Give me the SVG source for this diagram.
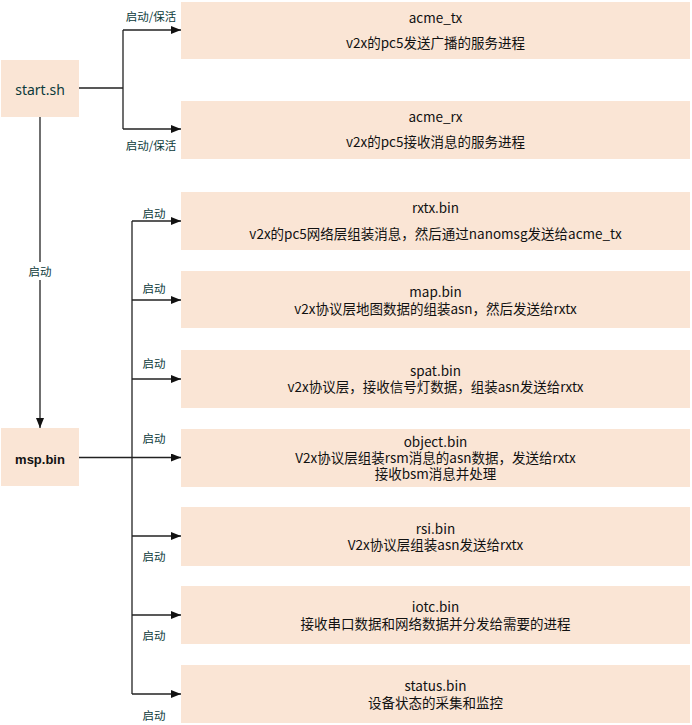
<svg xmlns="http://www.w3.org/2000/svg" width="692" height="725" viewBox="0 0 692 725">
<style>
.box{fill:#FAE5D5;}
.t{font-family:"Noto Sans CJK SC","Noto Sans",sans-serif;font-size:13.5px;fill:#111;text-anchor:middle;dominant-baseline:central;}
.lbl{font-family:"Noto Sans CJK SC","Noto Sans",sans-serif;font-size:11.5px;fill:#0B3A3A;text-anchor:middle;dominant-baseline:central;}
.ln{stroke:#222;stroke-width:1.3;fill:none;}
.arr{stroke:#222;stroke-width:1.3;fill:none;marker-end:url(#ah);}
</style>
<defs>
<marker id="ah" viewBox="0 0 10 8" refX="10" refY="4" markerWidth="10" markerHeight="8" markerUnits="userSpaceOnUse" orient="auto">
<path d="M0,0 L10,4 L0,8 z" fill="#111"/>
</marker>
</defs>
<rect width="692" height="725" fill="#fff"/>
<g id="connectors">
<path class="ln" d="M79,88 H123 M123,30 V129"/>
<path class="arr" d="M123,30 H181"/>
<path class="arr" d="M123,129 H181"/>
<path class="arr" d="M40,117 V428"/>
<rect x="24" y="262" width="32" height="18" fill="#fff"/>
<path class="ln" d="M79,457.5 H132" stroke-width="2.2"/>
<path class="ln" d="M132,221 V694" stroke-width="1.6"/>
<path class="arr" d="M132,221 H181"/>
<path class="arr" d="M132,300 H181"/>
<path class="arr" d="M132,379 H181"/>
<path class="arr" d="M132,457.5 H181"/>
<path class="arr" d="M132,536 H181"/>
<path class="arr" d="M132,615 H181"/>
<path class="arr" d="M132,694 H181"/>
<text class="lbl" x="151" y="16">启动/保活</text>
<text class="lbl" x="151" y="145">启动/保活</text>
<text class="lbl" x="40" y="271">启动</text>
<text class="lbl" x="154" y="213">启动</text>
<text class="lbl" x="154" y="288">启动</text>
<text class="lbl" x="154" y="363">启动</text>
<text class="lbl" x="154" y="438">启动</text>
<text class="lbl" x="154" y="556">启动</text>
<text class="lbl" x="154" y="635">启动</text>
<text class="lbl" x="154" y="715">启动</text>
</g>
<g id="start_sh">
<rect class="box" x="1" y="60" width="78" height="57"/>
<text class="t" x="40" y="89" style="font-size:14px;fill:#0B3A3A;font-family:'Noto Sans',sans-serif">start.sh</text>
</g>
<g id="msp_bin">
<rect class="box" x="1" y="428" width="78" height="58"/>
<text class="t" x="40" y="459" style="font-weight:bold;font-size:13px;font-family:'Liberation Sans',sans-serif">msp.bin</text>
</g>
<g id="acme_tx">
<rect class="box" x="181" y="2" width="509" height="57"/>
<text class="t" x="435.5" y="17">acme_tx</text>
<text class="t" x="435.5" y="42">v2x的pc5发送广播的服务进程</text>
</g>
<g id="acme_rx">
<rect class="box" x="181" y="101" width="509" height="58"/>
<text class="t" x="435.5" y="116">acme_rx</text>
<text class="t" x="435.5" y="141">v2x的pc5接收消息的服务进程</text>
</g>
<g id="rxtx_bin">
<rect class="box" x="181" y="192" width="509" height="58"/>
<text class="t" x="435.5" y="207">rxtx.bin</text>
<text class="t" x="435.5" y="233">v2x的pc5网络层组装消息，然后通过nanomsg发送给acme_tx</text>
</g>
<g id="map_bin">
<rect class="box" x="181" y="271" width="509" height="57"/>
<text class="t" x="435.5" y="291">map.bin</text>
<text class="t" x="435.5" y="308">v2x协议层地图数据的组装asn，然后发送给rxtx</text>
</g>
<g id="spat_bin">
<rect class="box" x="181" y="350" width="509" height="58"/>
<text class="t" x="435.5" y="370">spat.bin</text>
<text class="t" x="435.5" y="386">v2x协议层，接收信号灯数据，组装asn发送给rxtx</text>
</g>
<g id="object_bin">
<rect class="box" x="181" y="429" width="509" height="58"/>
<text class="t" x="435.5" y="441">object.bin</text>
<text class="t" x="435.5" y="457">V2x协议层组装rsm消息的asn数据，发送给rxtx</text>
<text class="t" x="435.5" y="473">接收bsm消息并处理</text>
</g>
<g id="rsi_bin">
<rect class="box" x="181" y="507" width="509" height="59"/>
<text class="t" x="435.5" y="528">rsi.bin</text>
<text class="t" x="435.5" y="544">V2x协议层组装asn发送给rxtx</text>
</g>
<g id="iotc_bin">
<rect class="box" x="181" y="586" width="509" height="58"/>
<text class="t" x="435.5" y="606">iotc.bin</text>
<text class="t" x="435.5" y="623">接收串口数据和网络数据并分发给需要的进程</text>
</g>
<g id="status_bin">
<rect class="box" x="181" y="665" width="509" height="58"/>
<text class="t" x="435.5" y="685">status.bin</text>
<text class="t" x="435.5" y="702">设备状态的采集和监控</text>
</g>
</svg>
